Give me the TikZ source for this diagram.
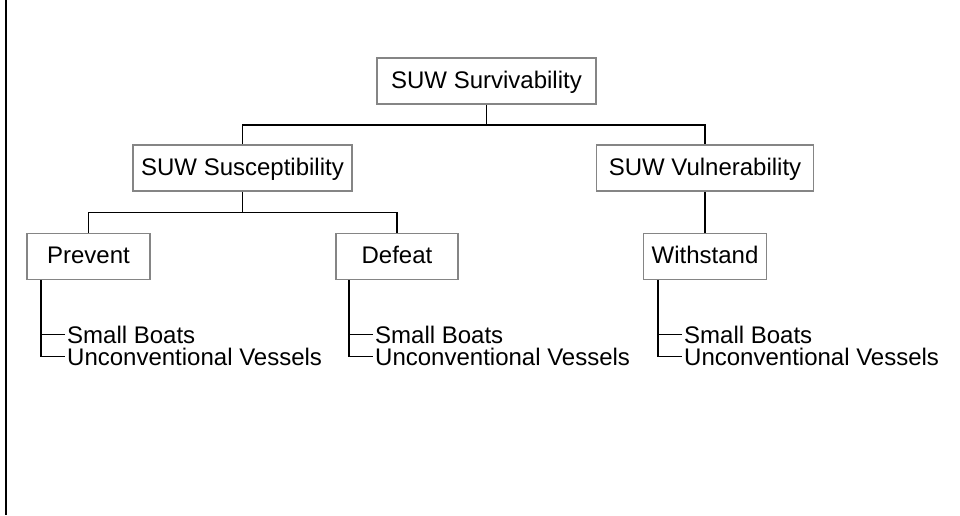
\documentclass[tikz,border=0pt]{standalone}
\usepackage{fontspec}
\setmainfont{Liberation Sans}
\usetikzlibrary{calc}
\begin{document}
\begin{tikzpicture}[x=1pt,y=-1pt,
  every node/.style={font=\fontsize{24}{28}\selectfont},
  box/.style={draw=black!48, line width=1.4pt, fill=white, inner sep=0pt,
    text height=17pt, text depth=3pt, minimum height=46pt},
  item/.style={anchor=west, inner xsep=2pt, inner ysep=0pt, text height=17pt, text depth=0pt},
  link/.style={line width=1.7pt, black}]
\useasboundingbox (0,0) rectangle (960,515);
% left rule
\draw[line width=2pt] (5.5,0) -- (5.5,515);

% boxes
\node[box, minimum width=219pt] (surv) at (486.5,81) {SUW Survivability};
\node[box, minimum width=219pt] (susc) at (242.5,168) {SUW Susceptibility};
\node[box, minimum width=217pt] (vuln) at (705,168) {SUW Vulnerability};
\node[box, minimum width=123pt] (prev) at (88.5,256.5) {Prevent};
\node[box, minimum width=122pt] (defe) at (397,256.5) {Defeat};
\node[box, minimum width=123pt] (with) at (705,256.5) {Withstand};

% tree connectors
\coordinate (j1) at (486.5,125);
\draw[link] (surv.south) -- (j1);
\draw[link] (susc.north) |- (j1) -| (vuln.north);
\coordinate (j2) at (242.5,212.5);
\draw[link] (susc.south) -- (j2);
\draw[link] (prev.north) |- (j2) -| (defe.north);
\draw[link] (vuln.south) -- (with.north);

% item lists
\node[item] (psb) at (65,334.5) {Small Boats};
\node[item] (psu) at (65,356.5) {Unconventional Vessels};
\node[item] (dsb) at (373,334.5) {Small Boats};
\node[item] (dsu) at (373,356.5) {Unconventional Vessels};
\node[item] (wsb) at (682,334.5) {Small Boats};
\node[item] (wsu) at (682,356.5) {Unconventional Vessels};

\coordinate (ps) at ($(prev.south west)+(15,0)$);
\coordinate (ds) at ($(defe.south west)+(14,0)$);
\coordinate (ws) at ($(with.south west)+(15,0)$);
\draw[link] (ps) |- (psu.west);
\draw[link] (psb.west) -- (psb.west -| ps);
\draw[link] (ds) |- (dsu.west);
\draw[link] (dsb.west) -- (dsb.west -| ds);
\draw[link] (ws) |- (wsu.west);
\draw[link] (wsb.west) -- (wsb.west -| ws);
\end{tikzpicture}
\end{document}
